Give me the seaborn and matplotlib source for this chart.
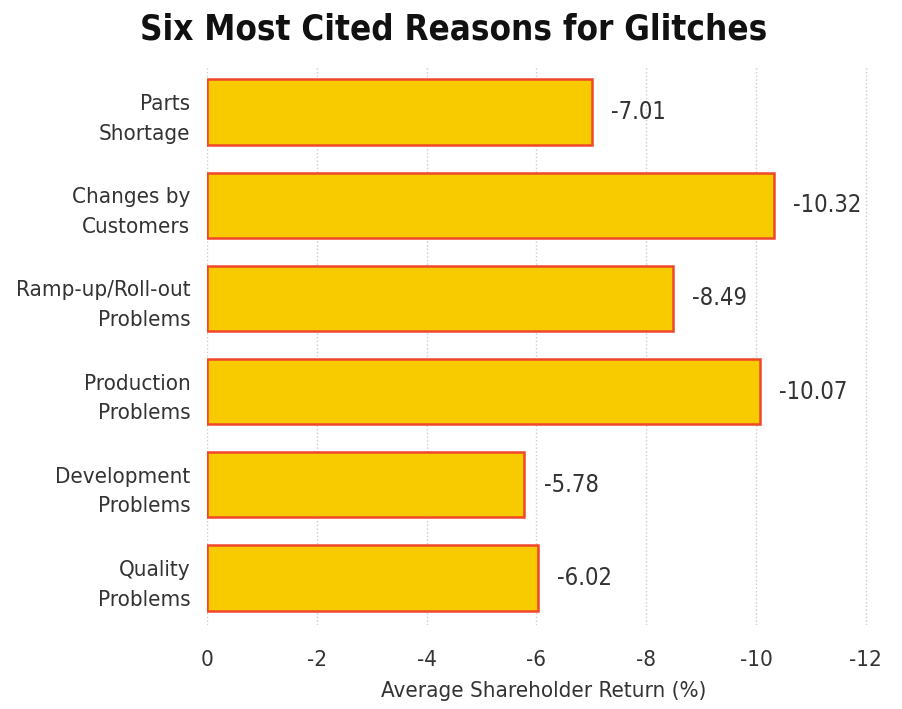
import seaborn as sns
import matplotlib.pyplot as plt
import pandas as pd

reasons = ['Parts\nShortage', 'Changes by\nCustomers', 'Ramp-up/Roll-out\nProblems',
           'Production\nProblems', 'Development\nProblems', 'Quality\nProblems']
returns = [-7.01, -10.32, -8.49, -10.07, -5.78, -6.02]
ticks = [0, -2, -4, -6, -8, -10, -12]

df = pd.DataFrame({'reason': reasons, 'ret': returns})

sns.set_style('white')
plt.rcParams['font.family'] = ['DejaVu Sans']
plt.rcParams['font.stretch'] = 'condensed'
txt = '#333333'

fig = plt.figure(figsize=(9.02, 7.09), dpi=100)
ax = fig.add_axes([0.2295, 0.119, 0.7456, 0.7886])

sns.barplot(data=df, x='ret', y='reason', orient='h', color='#F7CB00',
            saturation=1, width=0.70, edgecolor='#F0462A', linewidth=1.8, ax=ax)

ax.set_xlim(0, -12.25)
ax.set_ylim(5.5, -0.5)
ax.set_xticks(ticks)
ax.set_xticklabels([str(t) if t == 0 else f'-{abs(t)}' for t in ticks])
ax.xaxis.grid(True, linestyle=':', color='#cccccc', linewidth=1)
ax.set_axisbelow(True)
for s in ax.spines.values():
    s.set_visible(False)
ax.tick_params(axis='both', length=0, labelsize=16, colors=txt, pad=12)
ax.tick_params(axis='x', pad=18)
for lab in ax.get_yticklabels():
    lab.set_horizontalalignment('right')
    lab.set_multialignment('right')
    lab.set_linespacing(1.6)

for i, v in enumerate(returns):
    ax.text(v - 0.35, i, f'{v:.2f}', va='center', ha='left', fontsize=17, color=txt)

ax.set_ylabel('')
ax.set_xlabel('Average Shareholder Return (%)', fontsize=16, color=txt, labelpad=8)
fig.suptitle('Six Most Cited Reasons for Glitches', fontsize=25, fontweight='bold',
             color='#111111', x=0.503, y=0.982)

plt.savefig('out.png', dpi=100)
